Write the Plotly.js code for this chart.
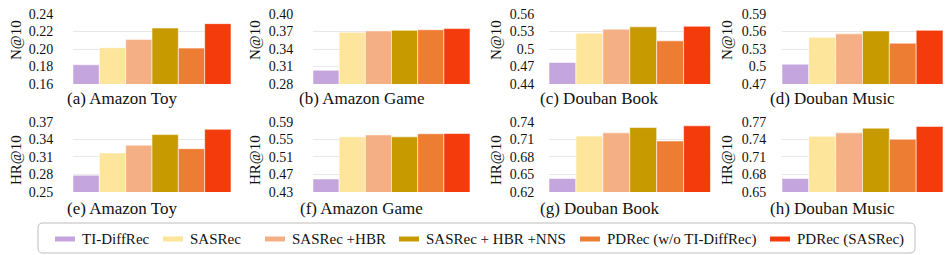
<!DOCTYPE html>
<html><head><meta charset="utf-8">
<script src="https://cdn.plot.ly/plotly-3.0.1.min.js"></script>
<style>html,body{margin:0;padding:0;background:#fff}#chart{width:949px;height:255px}</style>
</head><body><div id="chart"></div>
<script>
const methods = ["TI-DiffRec","SASRec","SASRec +HBR","SASRec + HBR +NNS","PDRec (w/o TI-DiffRec)","PDRec (SASRec)"];
const colors = ["#C4A5DE","#FDE59B","#F4B084","#C79A00","#ED7D32","#F43B0C"];
const panelTitles = ["(a) Amazon Toy","(b) Amazon Game","(c) Douban Book","(d) Douban Music","(e) Amazon Toy","(f) Amazon Game","(g) Douban Book","(h) Douban Music"];
const metricTitles = ["N@10","N@10","N@10","N@10","HR@10","HR@10","HR@10","HR@10"];
const vals_a = [0.182,0.2015,0.211,0.224,0.201,0.229];
const vals_b = [0.3035,0.3686,0.371,0.372,0.373,0.375];
const vals_c = [0.477,0.527,0.534,0.538,0.514,0.539];
const vals_d = [0.504,0.550,0.556,0.561,0.540,0.562];
const vals_e = [0.2785,0.3165,0.330,0.348,0.324,0.357];
const vals_f = [0.4595,0.5557,0.560,0.5555,0.5625,0.563];
const vals_g = [0.643,0.7155,0.721,0.730,0.707,0.733];
const vals_h = [0.673,0.745,0.751,0.759,0.740,0.762];
const ticks_a = ["0.16","0.18","0.20","0.22","0.24"];
const ticks_b = ["0.28","0.31","0.34","0.37","0.40"];
const ticks_c = ["0.44","0.47","0.5","0.53","0.56"];
const ticks_d = ["0.47","0.5","0.53","0.56","0.59"];
const ticks_e = ["0.25","0.28","0.31","0.34","0.37"];
const ticks_f = ["0.43","0.47","0.51","0.55","0.59"];
const ticks_g = ["0.62","0.65","0.68","0.71","0.74"];
const ticks_h = ["0.65","0.68","0.71","0.74","0.77"];

const allVals = [vals_a,vals_b,vals_c,vals_d,vals_e,vals_f,vals_g,vals_h];
const allTicks = [ticks_a,ticks_b,ticks_c,ticks_d,ticks_e,ticks_f,ticks_g,ticks_h];

const W = 949, H = 255;
const px = x => x / W, py = y => 1 - y / H;
const colX = [[73,231],[313,470],[549,710.5],[782,943]];
const tickLen = [16,16,11,12];
const rowY = [[14,84],[121.7,192]];
const ytitleX = [16,255,496,727];
const ytitleY = [40,160];
const subY = [99,208];

const font = "Liberation Serif";
const data = [], annotations = [], shapes = [];
const layout = {
  width: W, height: H, margin: {l:0,r:0,t:0,b:0},
  paper_bgcolor: "#fff", plot_bgcolor: "#fff",
  showlegend: false, bargap: 0,
  font: {family: font, size: 14, color: "#111"},
  annotations, shapes
};

for (let i = 0; i < 8; i++) {
  const r = Math.floor(i / 4), c = i % 4;
  const n = i + 1;
  const xa = "x" + (n === 1 ? "" : n), ya = "y" + (n === 1 ? "" : n);
  data.push({
    type: "bar", x: methods, y: allVals[i], xaxis: xa, yaxis: ya,
    marker: {color: colors, line: {color: "rgba(255,255,255,0.55)", width: 1}},
    hoverinfo: "x+y"
  });
  const tv = allTicks[i].map(Number);
  layout["xaxis" + (n === 1 ? "" : n)] = {
    domain: [px(colX[c][0]), px(colX[c][1])], anchor: ya,
    showticklabels: false, showgrid: false, zeroline: false, showline: false,
    ticks: "", range: [-0.5, 5.5], fixedrange: true
  };
  layout["yaxis" + (n === 1 ? "" : n)] = {
    domain: [py(rowY[r][1]), py(rowY[r][0])], anchor: xa,
    range: [tv[0], tv[tv.length - 1]],
    tickvals: tv, ticktext: allTicks[i],
    showgrid: true, gridcolor: "#e8e8e8", gridwidth: 1,
    zeroline: false, showline: false,
    ticks: "outside", ticklen: tickLen[c], tickcolor: "rgba(0,0,0,0)",
    tickfont: {family: font, size: 14, color: "#111"}, fixedrange: true
  };
  annotations.push({
    text: panelTitles[i], xref: "paper", yref: "paper",
    x: px((colX[c][0] + colX[c][1]) / 2 - 30), y: py(subY[r]),
    xanchor: "center", yanchor: "middle", showarrow: false,
    font: {family: font, size: 17, color: "#111"}
  });
  annotations.push({
    text: metricTitles[i], xref: "paper", yref: "paper",
    x: px(ytitleX[c]), y: py(ytitleY[r]), textangle: -90,
    xanchor: "center", yanchor: "middle", showarrow: false,
    font: {family: font, size: 15, color: "#111"}
  });
}

// legend box
const bx0 = 38, bx1 = 915, by0 = 223, by1 = 253, rad = 5;
const P = (x, y) => px(x) + "," + py(y);
shapes.push({
  type: "path", xref: "paper", yref: "paper",
  path: "M" + P(bx0 + rad, by0) + " L" + P(bx1 - rad, by0) +
        " Q" + P(bx1, by0) + " " + P(bx1, by0 + rad) +
        " L" + P(bx1, by1 - rad) + " Q" + P(bx1, by1) + " " + P(bx1 - rad, by1) +
        " L" + P(bx0 + rad, by1) + " Q" + P(bx0, by1) + " " + P(bx0, by1 - rad) +
        " L" + P(bx0, by0 + rad) + " Q" + P(bx0, by0) + " " + P(bx0 + rad, by0) + " Z",
  line: {color: "#bdbdbd", width: 1}, fillcolor: "rgba(0,0,0,0)"
});
const swX = [55,163,265,399,580,770];
const legY = 239;
for (let k = 0; k < methods.length; k++) {
  shapes.push({
    type: "rect", xref: "paper", yref: "paper",
    x0: px(swX[k]), x1: px(swX[k] + 20), y0: py(legY + 2.5), y1: py(legY - 2.5),
    fillcolor: colors[k], line: {width: 0}
  });
  annotations.push({
    text: methods[k], xref: "paper", yref: "paper",
    x: px(swX[k] + 25), y: py(legY), xanchor: "left", yanchor: "middle",
    showarrow: false, font: {family: font, size: 15, color: "#111"}
  });
}

Plotly.newPlot("chart", data, layout, {displayModeBar: false, staticPlot: true});
</script></body></html>
